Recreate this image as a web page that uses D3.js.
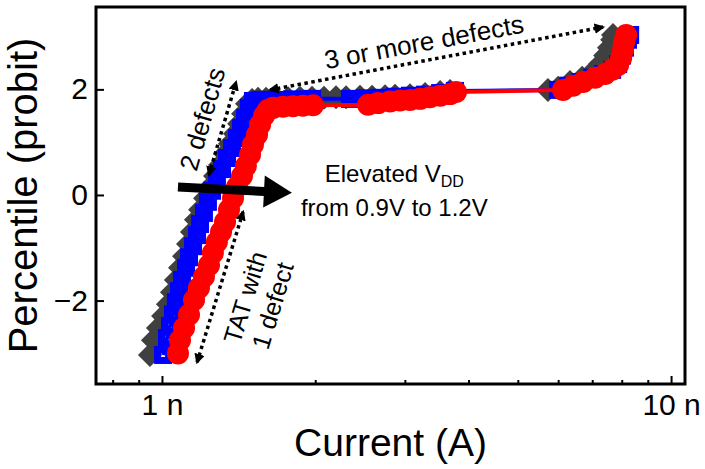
<!DOCTYPE html>
<html lang="en">
<head>
<meta charset="UTF-8">
<title>Percentile vs current</title>
<script src="https://d3js.org/d3.v7.min.js"></script>
<style>
  body { margin: 0; background: #fff; }
  text { font-family: Arial, "Liberation Sans", sans-serif; fill: #000; }
</style>
</head>
<body>
<div id="chart"></div>
<script>
// current in nA, percentile in probit units
const greyData = [
  [0.947,-3.03],[0.960,-2.75],[0.982,-2.52],[1.005,-2.29],[1.027,-2.07],[1.046,-1.84],
  [1.065,-1.61],[1.085,-1.38],[1.105,-1.16],[1.125,-0.93],[1.145,-0.70],[1.166,-0.47],
  [1.188,-0.28],[1.215,-0.06],[1.243,0.15],[1.271,0.36],[1.30,0.57],[1.33,0.78],
  [1.36,0.97],[1.391,1.16],[1.417,1.35],[1.443,1.54],[1.469,1.73],[1.503,1.80],
  [1.544,1.82],[1.601,1.82],[1.675,1.83],[1.769,1.83],[1.866,1.84],[1.971,1.84],
  [2.081,1.84],[2.197,1.85],[2.299,1.85],[2.449,1.86],[2.586,1.86],[2.743,1.87],
  [2.87,1.88],[3.07,1.89],[3.287,1.91],[3.518,1.95],[3.68,1.97],[5.73,1.99],
  [6.0,2.03],[6.33,2.14],[6.69,2.22],[7.0,2.33],[7.25,2.48],[7.42,2.64],
  [7.55,2.79],[7.66,2.94],[7.69,3.03]
];
const blueData = [
  [1.005,-3.03],[1.023,-2.71],[1.037,-2.48],[1.051,-2.26],[1.065,-2.03],[1.080,-1.82],
  [1.095,-1.61],[1.115,-1.38],[1.130,-1.18],[1.151,-0.97],[1.172,-0.76],[1.188,-0.55],
  [1.209,-0.34],[1.231,-0.13],[1.254,0.08],[1.282,0.28],[1.312,0.49],[1.342,0.70],
  [1.373,0.89],[1.404,1.08],[1.430,1.27],[1.456,1.46],[1.482,1.65],[1.509,1.78],
  [1.558,1.80],[1.63,1.80],[1.705,1.80],[1.801,1.81],[1.91,1.81],[1.971,1.82],
  [2.34,1.82],[2.505,1.83],[2.681,1.84],[2.87,1.86],[3.07,1.88],[3.287,1.90],
  [3.518,1.93],[3.764,1.97],[6.0,1.99],[6.28,2.07],[6.63,2.14],[7.0,2.22],
  [7.35,2.29],[7.66,2.37],[7.87,2.48],[8.01,2.64],[8.12,2.79],[8.23,2.94],[8.31,3.03]
];
const redData = [
  [1.075,-3.00],[1.085,-2.75],[1.105,-2.52],[1.13,-2.27],[1.156,-1.99],[1.182,-1.76],
  [1.209,-1.55],[1.237,-1.33],[1.259,-1.10],[1.282,-0.89],[1.306,-0.70],[1.33,-0.51],
  [1.354,-0.28],[1.379,-0.06],[1.404,0.15],[1.436,0.36],[1.462,0.55],[1.489,0.76],
  [1.509,0.95],[1.537,1.14],[1.558,1.33],[1.586,1.50],[1.615,1.61],[1.652,1.65],
  [1.729,1.67],[1.809,1.68],[1.892,1.69],[1.98,1.70],[2.54,1.71],[2.657,1.74],
  [2.805,1.77],[2.935,1.79],[3.07,1.80],[3.213,1.82],[3.36,1.85],[3.52,1.88],
  [3.68,1.91],[3.78,1.95],[6.135,1.99],[6.42,2.07],[6.72,2.14],[7.09,2.22],
  [7.42,2.29],[7.66,2.37],[7.87,2.46],[7.98,2.60],[8.05,2.75],[8.09,2.90],[8.16,3.03]
];

const xMajorTicks = [1, 10];
const xMinorTicks = [0.8, 0.9, 2, 3, 4, 5, 6, 7, 8, 9];
const yTicks = [-2, 0, 2];

const margin = { top: 7, right: 20, bottom: 85, left: 96 };
const width = 705 - margin.left - margin.right;
const height = 469 - margin.top - margin.bottom;

const svg = d3.select("#chart")
  .append("svg")
  .attr("width", width + margin.left + margin.right)
  .attr("height", height + margin.top + margin.bottom)
  .append("g")
  .attr("transform", `translate(${margin.left},${margin.top})`);

const x = d3.scaleLog().domain([0.742, 10.65]).range([0, width]);
const y = d3.scaleLinear().domain([-3.58, 3.56]).range([height, 0]);

// axes, ticks pointing inward
svg.append("g")
  .attr("transform", `translate(0,${height})`)
  .call(d3.axisBottom(x).tickValues(xMajorTicks).tickSize(-8).tickPadding(10)
    .tickFormat(d => d + " n"));
svg.append("g")
  .attr("transform", `translate(0,${height})`)
  .call(d3.axisBottom(x).tickValues(xMinorTicks).tickSize(-4).tickFormat(""));
svg.append("g")
  .call(d3.axisLeft(y).tickValues(yTicks).tickSize(-8).tickPadding(8));

svg.selectAll(".domain").remove();
svg.selectAll(".tick line").attr("stroke", "#000").attr("stroke-width", 2);
svg.selectAll(".tick text").style("font-size", "30px").attr("fill", "#000");

// frame
svg.append("rect")
  .attr("width", width).attr("height", height)
  .attr("fill", "none").attr("stroke", "#000").attr("stroke-width", 3);

const line = d3.line().x(d => x(d[0])).y(d => y(d[1]));

// grey series - diamonds
svg.append("path").datum(greyData)
  .attr("fill", "none").attr("stroke", "#404040").attr("stroke-width", 3).attr("d", line);
svg.append("g").selectAll("path")
  .data(greyData).enter().append("path")
  .attr("transform", d => `translate(${x(d[0])},${y(d[1])})`)
  .attr("d", "M0,-12L12,0L0,12L-12,0Z")
  .attr("fill", "#404040");

// blue series - open squares
svg.append("path").datum(blueData)
  .attr("fill", "none").attr("stroke", "#0000ff").attr("stroke-width", 4).attr("d", line);
svg.append("g").selectAll("rect")
  .data(blueData).enter().append("rect")
  .attr("x", d => x(d[0]) - 5.5).attr("y", d => y(d[1]) - 5.5)
  .attr("width", 11).attr("height", 11)
  .attr("fill", "none").attr("stroke", "#0000ff").attr("stroke-width", 7);

// red series - circles
svg.append("path").datum(redData)
  .attr("fill", "none").attr("stroke", "#ff0000").attr("stroke-width", 4).attr("d", line);
svg.append("g").selectAll("circle")
  .data(redData).enter().append("circle")
  .attr("cx", d => x(d[0])).attr("cy", d => y(d[1]))
  .attr("r", 11)
  .attr("fill", "#ff0000");

// annotations
const defs = d3.select("svg").append("defs");
defs.append("marker")
  .attr("id", "tip")
  .attr("viewBox", "0 0 10 10")
  .attr("refX", 8).attr("refY", 5)
  .attr("markerWidth", 3).attr("markerHeight", 3)
  .attr("markerUnits", "strokeWidth")
  .attr("orient", "auto-start-reverse")
  .append("path").attr("d", "M0,0L10,5L0,10Z").attr("fill", "#000");

const dotted = [
  [[1.63, 1.99], [7.35, 3.18]],
  [[1.237, 0.38], [1.398, 2.14]],
  [[1.443, -0.32], [1.172, -3.17]]
];
svg.append("g").selectAll("line")
  .data(dotted).enter().append("line")
  .attr("x1", d => x(d[0][0])).attr("y1", d => y(d[0][1]))
  .attr("x2", d => x(d[1][0])).attr("y2", d => y(d[1][1]))
  .attr("stroke", "#000").attr("stroke-width", 3.5)
  .attr("stroke-dasharray", "3.5,3.5")
  .attr("marker-start", "url(#tip)").attr("marker-end", "url(#tip)");

// thick VDD arrow
const tail = [x(1.075), y(0.15)], tip = [x(1.80), y(0.04)];
const ang = Math.atan2(tip[1] - tail[1], tip[0] - tail[0]);
const hl = 28, hw = 16, sw = 4.5;
const c = Math.cos(ang), s = Math.sin(ang);
const bx = tip[0] - hl * c, by = tip[1] - hl * s;
svg.append("path")
  .attr("d", `M${tail[0] - sw * -s},${tail[1] - sw * c}` +
    `L${bx - sw * -s},${by - sw * c}L${bx - hw * -s},${by - hw * c}` +
    `L${tip[0]},${tip[1]}L${bx + hw * -s},${by + hw * c}` +
    `L${bx + sw * -s},${by + sw * c}L${tail[0] + sw * -s},${tail[1] + sw * c}Z`)
  .attr("fill", "#000");

const fs = 24, fsBig = 26;
svg.append("text")
  .attr("transform", `translate(${x(3.27)},${y(2.90)}) rotate(-10.5)`)
  .attr("text-anchor", "middle").attr("dy", "0.35em")
  .style("font-size", fsBig + "px")
  .text("3 or more defects");

svg.append("text")
  .attr("transform", `translate(${x(1.20)},${y(1.44)}) rotate(-74)`)
  .attr("text-anchor", "middle").attr("dy", "0.35em")
  .style("font-size", fsBig + "px")
  .text("2 defects");

const tat = svg.append("text")
  .attr("transform", `translate(${x(1.555)},${y(-2.02)}) rotate(-73)`)
  .attr("text-anchor", "middle")
  .style("font-size", "25px");
tat.append("tspan").attr("x", 0).attr("dy", "-0.25em").text("TAT with");
tat.append("tspan").attr("x", 0).attr("dy", "1.15em").text("1 defect");

const vdd = svg.append("text")
  .attr("x", x(2.86)).attr("y", y(0.40)).attr("dy", "0.35em")
  .attr("text-anchor", "middle")
  .style("font-size", fs + "px");
vdd.append("tspan").text("Elevated V");
vdd.append("tspan").attr("dy", "0.3em").style("font-size", "16px").text("DD");

svg.append("text")
  .attr("x", x(2.86)).attr("y", y(-0.24)).attr("dy", "0.35em")
  .attr("text-anchor", "middle")
  .style("font-size", fs + "px")
  .text("from 0.9V to 1.2V");

// axis titles
svg.append("text")
  .attr("x", width / 2).attr("y", height + 72)
  .attr("text-anchor", "middle")
  .style("font-size", "39px")
  .text("Current (A)");

svg.append("text")
  .attr("transform", `translate(${-margin.left + 37},${height / 2}) rotate(-90)`)
  .attr("text-anchor", "middle")
  .style("font-size", "40px")
  .text("Percentile (probit)");
</script>
</body>
</html>
